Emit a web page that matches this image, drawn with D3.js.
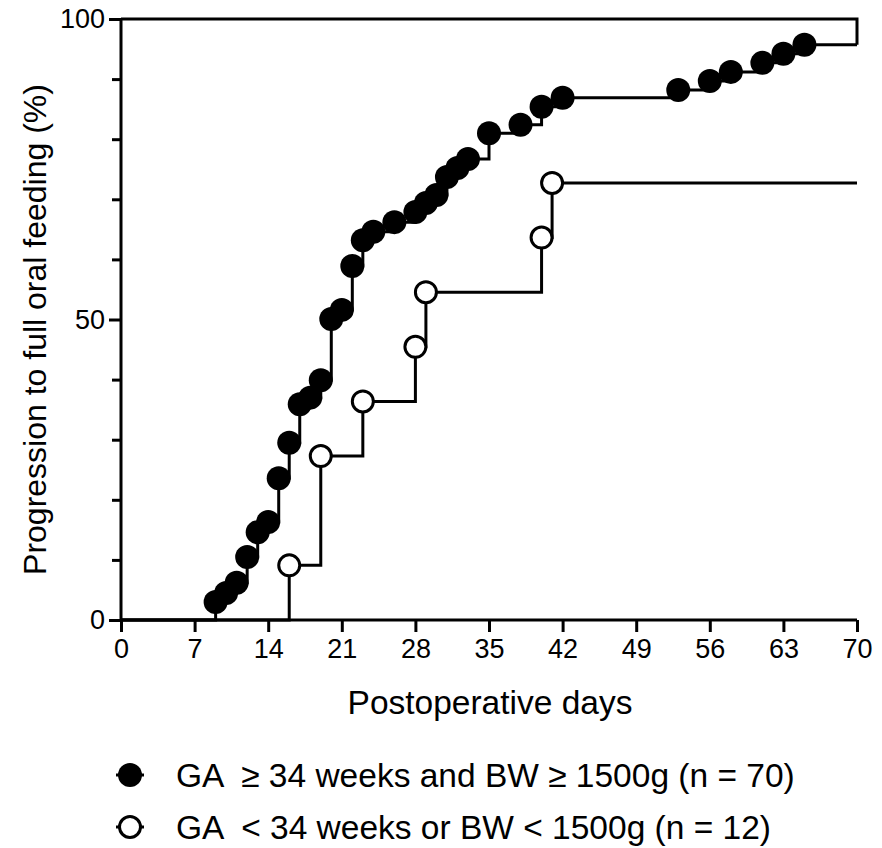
<!DOCTYPE html>
<html lang="en">
<head>
    <meta charset="UTF-8">
    <title>Progression to full oral feeding</title>
    <script src="https://d3js.org/d3.v7.min.js"></script>
    <style>
        body { margin: 0; background: white; }
        svg text { font-family: "Liberation Sans", Arial, sans-serif; fill: black; }
    </style>
</head>
<body>
<svg id="canvas" width="882" height="848"></svg>
<script>
    // data
    let groupA_days = [9, 10, 11, 12, 13, 14, 15, 16, 17, 18, 19, 20, 21, 22, 23, 24, 26, 28, 29, 30, 31, 32, 33, 35, 38, 40, 42, 53, 56, 58, 61, 63, 65]
    let groupA_pct = [3.0, 4.5, 6.2, 10.5, 14.6, 16.3, 23.6, 29.5, 35.9, 37.0, 39.9, 50.1, 51.6, 58.9, 63.2, 64.6, 66.2, 67.9, 69.4, 70.7, 73.7, 75.2, 76.7, 81.0, 82.4, 85.4, 86.9, 88.2, 89.7, 91.2, 92.7, 94.2, 95.7]
    let groupB_days = [16, 19, 23, 28, 29, 40, 41]
    let groupB_pct = [9.09, 27.27, 36.36, 45.45, 54.55, 63.64, 72.73]
    let xTicks = [0, 7, 14, 21, 28, 35, 42, 49, 56, 63, 70]
    let yTicks = [0, 10, 20, 30, 40, 50, 60, 70, 80, 90, 100]
    let yLabels = [0, 50, 100]
    let legendLabels = ["GA  \u2265 34 weeks and BW \u2265 1500g (n = 70)", "GA  < 34 weeks or BW < 1500g (n = 12)"]

    let svg = d3.select('#canvas')
    let mLeft = 121, mRight = 857, mTop = 19, mBottom = 620

    let x = d3.scaleLinear().domain([0, 70]).range([mLeft, mRight])
    let y = d3.scaleLinear().domain([0, 100]).range([mBottom, mTop])

    // step curves, starting from 0 and carried on to the end of the axis
    function stepPoints(days, pct) {
        let pts = [[0, 0]]
        days.forEach(function (d, i) { pts.push([d, pct[i]]) })
        pts.push([70, pct[pct.length - 1]])
        return pts
    }

    let line = d3.line()
        .x(function (d) { return x(d[0]) })
        .y(function (d) { return y(d[1]) })
        .curve(d3.curveStepAfter)

    let plot = svg.append('g')

    plot.append('path')
        .attr('d', line(stepPoints(groupB_days, groupB_pct)))
        .attr('fill', 'none').attr('stroke', 'black').attr('stroke-width', 3)

    plot.append('path')
        .attr('d', line(stepPoints(groupA_days, groupA_pct)))
        .attr('fill', 'none').attr('stroke', 'black').attr('stroke-width', 3)

    // top frame line and the short right edge down to the last value
    let lastA = groupA_pct[groupA_pct.length - 1]
    plot.append('path')
        .attr('d', d3.line().x(d => x(d[0])).y(d => y(d[1]))([[0, 100], [70, 100], [70, lastA]]))
        .attr('fill', 'none').attr('stroke', 'black').attr('stroke-width', 3)

    plot.selectAll('circle.open')
        .data(groupB_days)
        .enter()
        .append('circle')
        .attr('class', 'open')
        .attr('cx', d => x(d))
        .attr('cy', (d, i) => y(groupB_pct[i]))
        .attr('r', 10.5)
        .attr('fill', 'white').attr('stroke', 'black').attr('stroke-width', 3)

    plot.selectAll('circle.filled')
        .data(groupA_days)
        .enter()
        .append('circle')
        .attr('class', 'filled')
        .attr('cx', d => x(d))
        .attr('cy', (d, i) => y(groupA_pct[i]))
        .attr('r', 12)
        .attr('fill', 'black')

    // axes
    let xAxis = svg.append('g')
        .attr('transform', 'translate(0,' + mBottom + ')')
        .call(d3.axisBottom(x).tickValues(xTicks).tickSize(12).tickPadding(7))
    xAxis.select('.domain').attr('stroke-width', 3).attr('d', 'M' + mLeft + ',0H' + mRight)
    xAxis.selectAll('.tick line').attr('stroke-width', 3)
    xAxis.selectAll('.tick text').attr('font-size', 27)

    let yAxis = svg.append('g')
        .attr('transform', 'translate(' + mLeft + ',0)')
        .call(d3.axisLeft(y).tickValues(yTicks).tickSize(12).tickPadding(4)
            .tickFormat(d => yLabels.includes(d) ? d : ''))
    yAxis.select('.domain').attr('stroke-width', 3).attr('d', 'M0,' + mBottom + 'V' + mTop)
    yAxis.selectAll('.tick line').attr('stroke-width', 3)
        .attr('x2', d => yLabels.includes(d) ? -12 : -9)
    yAxis.selectAll('.tick text').attr('font-size', 27)

    svg.append('text')
        .attr('x', (mLeft + mRight) / 2 + 1)
        .attr('y', 714)
        .attr('text-anchor', 'middle')
        .attr('font-size', 33.5)
        .text('Postoperative days')

    svg.append('text')
        .attr('transform', 'translate(46,' + ((mTop + mBottom) / 2 + 10) + ') rotate(-90)')
        .attr('text-anchor', 'middle')
        .attr('font-size', 32)
        .text('Progression to full oral feeding (%)')

    // legend
    let legend = svg.append('g')
    let legendY = [775, 827]
    legendLabels.forEach(function (label, i) {
        let g = legend.append('g').attr('transform', 'translate(0,' + legendY[i] + ')')
        g.append('line').attr('x1', 116).attr('x2', 144).attr('y1', 0).attr('y2', 0)
            .attr('stroke', 'black').attr('stroke-width', 3)
        g.append('circle').attr('cx', 130).attr('cy', 0)
            .attr('r', i === 0 ? 12 : 10.5)
            .attr('fill', i === 0 ? 'black' : 'white')
            .attr('stroke', 'black').attr('stroke-width', i === 0 ? 0 : 3)
        g.append('text').attr('x', 176).attr('y', 12)
            .attr('font-size', 33.5)
            .attr('xml:space', 'preserve')
            .style('white-space', 'pre')
            .text(label)
    })
</script>
</body>
</html>
